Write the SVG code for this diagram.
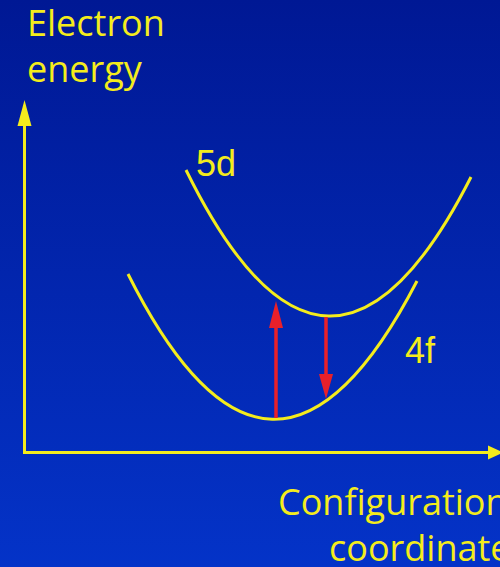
<svg xmlns="http://www.w3.org/2000/svg" width="500" height="567" viewBox="0 0 500 567">
<defs>
<linearGradient id="bg" x1="0" y1="0" x2="0" y2="1">
<stop offset="0" stop-color="#001894"/>
<stop offset="1" stop-color="#0433c8"/>
</linearGradient>
<style>
.lbl{font-family:"Open Sans","Noto Sans",sans-serif;font-size:36px;fill:#f4ec1c}
.st{font-family:"Liberation Sans",Arial,sans-serif;font-size:36px;fill:#f4ec1c}
.curve{fill:none;stroke:#f4ec1c;stroke-width:3}
.axis{fill:none;stroke:#f4ec1c;stroke-width:3}
.red{stroke:#e8202a;stroke-width:3.5}
</style>
</defs>
<rect width="500" height="567" fill="url(#bg)"/>
<g id="axes">
<path class="axis" d="M24.5 120 V452.5 H492"/>
<polygon points="24.5,100 17.5,126 31.5,126" fill="#f4ec1c"/>
<polygon points="503,452.5 488,445.5 488,459.5" fill="#f4ec1c"/>
</g>
<g id="label-energy">
<text class="lbl" x="27" y="36">Electron</text>
<text class="lbl" x="27" y="82">energy</text>
</g>
<g id="label-config">
<text class="lbl" x="278" y="515">Configuration</text>
<text class="lbl" x="329" y="561">coordinate</text>
</g>
<g id="state-5d">
<path class="curve" d="M186 170 Q328 458.5 471 177"/>
<text class="st" x="196" y="176">5d</text>
</g>
<g id="state-4f">
<path class="curve" d="M128 274 Q272 561 417 281"/>
<text class="st" x="405" y="363">4f</text>
</g>
<g id="connectors">
<line class="red" x1="276" y1="418" x2="276" y2="322"/>
<polygon points="276,301 269,328 283,328" fill="#e8202a"/>
<line class="red" x1="326" y1="317" x2="326" y2="378"/>
<polygon points="326,399 319,374 333,374" fill="#e8202a"/>
</g>
</svg>
